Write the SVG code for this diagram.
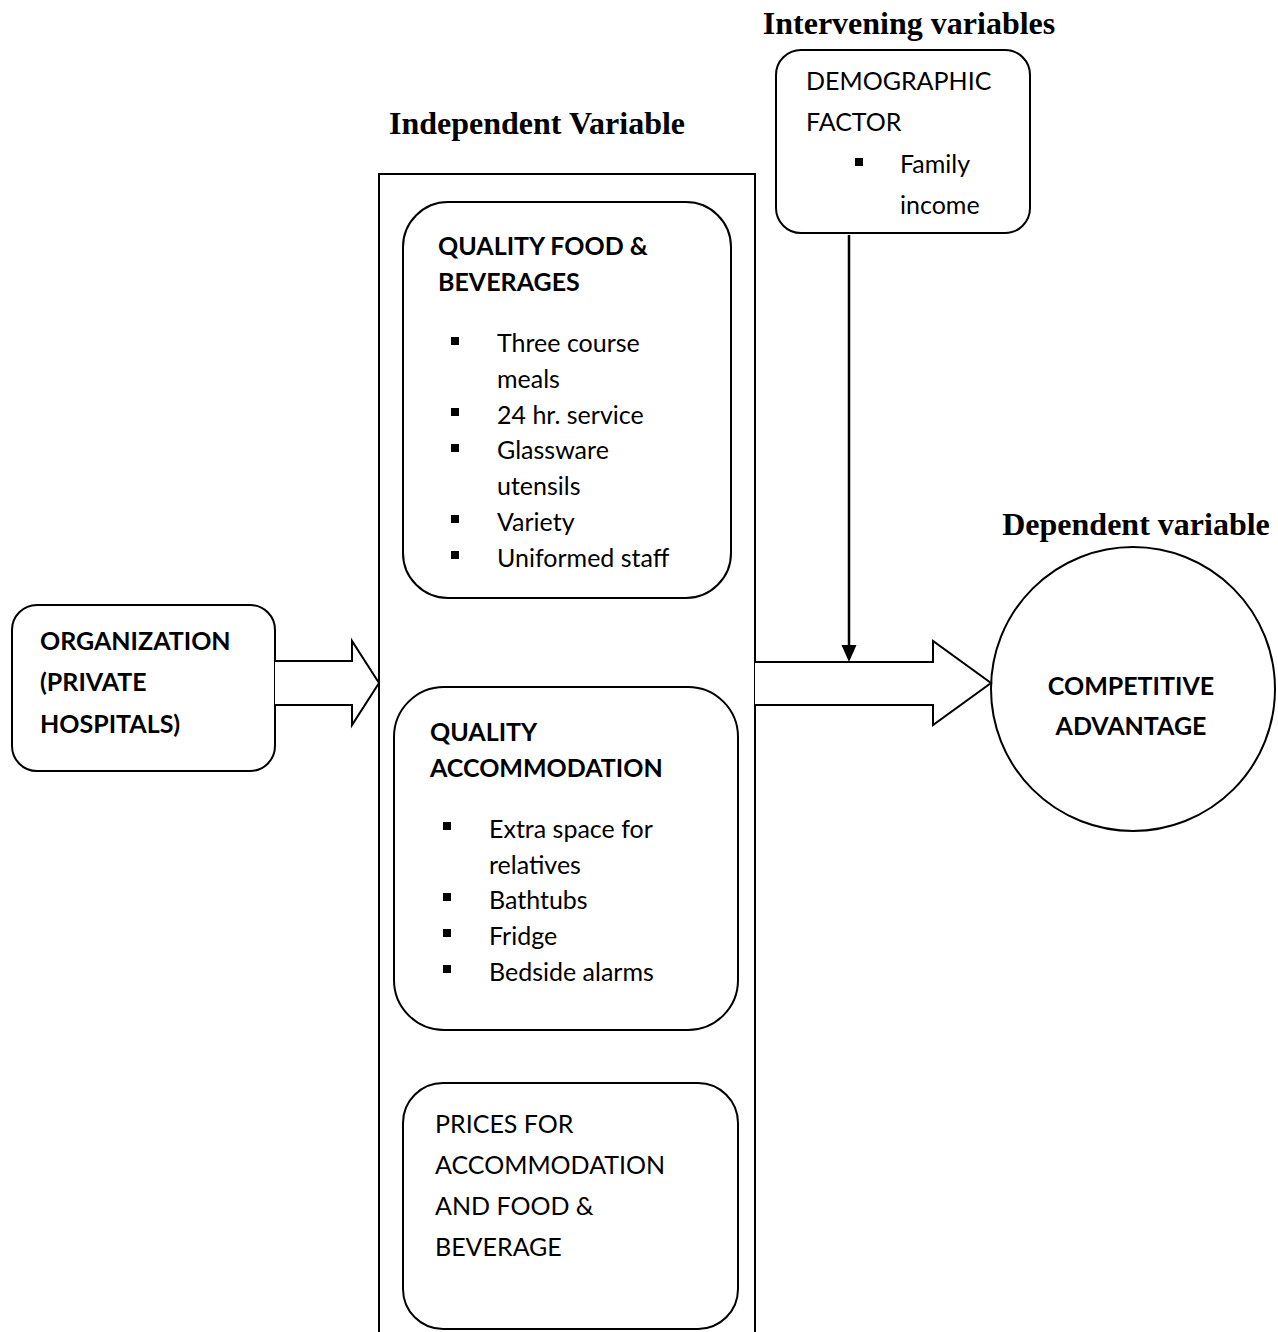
<svg xmlns="http://www.w3.org/2000/svg" width="1278" height="1332" viewBox="0 0 1278 1332">
<style>
.box{fill:#fff;stroke:#000;stroke-width:2}
.t{font-family:Lato,"Open Sans",sans-serif;font-size:25px;fill:#000}
.b{font-weight:bold}
.h{font-family:"Liberation Serif",serif;font-size:32px;font-weight:bold;fill:#000}
.bul{fill:#000}
.arr{fill:#fff;stroke:#000;stroke-width:2;stroke-linejoin:miter}
</style>
<rect width="1278" height="1332" fill="#fff"/>
<text class="h" x="909" y="34" text-anchor="middle">Intervening variables</text>
<text class="h" x="537" y="134" text-anchor="middle">Independent Variable</text>
<text class="h" x="1136" y="535" text-anchor="middle">Dependent variable</text>

<g id="independent">
<path d="M379,1332 L379,174 L755,174 L755,1332" fill="none" stroke="#000" stroke-width="2"/>
</g>

<g id="food">
<rect class="box" x="403" y="202" width="328" height="396" rx="45"/>
<text class="t b" x="438" y="255">QUALITY FOOD &amp;</text>
<text class="t b" x="438" y="291">BEVERAGES</text>
<rect class="bul" x="451" y="337" width="8" height="8"/>
<text class="t" x="497" y="352">Three course</text>
<text class="t" x="497" y="388">meals</text>
<rect class="bul" x="451" y="408" width="8" height="8"/>
<text class="t" x="497" y="424">24 hr. service</text>
<rect class="bul" x="451" y="444" width="8" height="8"/>
<text class="t" x="497" y="459">Glassware</text>
<text class="t" x="497" y="495">utensils</text>
<rect class="bul" x="451" y="515" width="8" height="8"/>
<text class="t" x="497" y="531">Variety</text>
<rect class="bul" x="451" y="551" width="8" height="8"/>
<text class="t" x="497" y="567">Uniformed staff</text>
</g>

<g id="accommodation">
<rect class="box" x="394" y="687" width="344" height="343" rx="50"/>
<text class="t b" x="430" y="741">QUALITY</text>
<text class="t b" x="430" y="777">ACCOMMODATION</text>
<rect class="bul" x="443" y="822" width="8" height="8"/>
<text class="t" x="489" y="838">Extra space for</text>
<text class="t" x="489" y="874">relatives</text>
<rect class="bul" x="443" y="893" width="8" height="8"/>
<text class="t" x="489" y="909">Bathtubs</text>
<rect class="bul" x="443" y="929" width="8" height="8"/>
<text class="t" x="489" y="945">Fridge</text>
<rect class="bul" x="443" y="965" width="8" height="8"/>
<text class="t" x="489" y="981">Bedside alarms</text>
</g>

<g id="prices">
<rect class="box" x="403" y="1083" width="335" height="246" rx="40"/>
<text class="t" x="435" y="1133">PRICES FOR</text>
<text class="t" x="435" y="1174">ACCOMMODATION</text>
<text class="t" x="435" y="1215">AND FOOD &amp;</text>
<text class="t" x="435" y="1256">BEVERAGE</text>
</g>

<g id="demographic">
<rect class="box" x="776" y="50" width="254" height="183" rx="25"/>
<text class="t" x="806" y="90">DEMOGRAPHIC</text>
<text class="t" x="806" y="131">FACTOR</text>
<rect class="bul" x="855" y="158" width="8" height="8"/>
<text class="t" x="900" y="173">Family</text>
<text class="t" x="900" y="214">income</text>
</g>

<g id="organization">
<rect class="box" x="12" y="605" width="263" height="166" rx="25"/>
<text class="t b" x="40" y="650">ORGANIZATION</text>
<text class="t b" x="40" y="691">(PRIVATE</text>
<text class="t b" x="40" y="733">HOSPITALS)</text>
</g>

<g id="competitive">
<circle class="box" cx="1133" cy="689" r="142"/>
<text class="t b" x="1131" y="695" text-anchor="middle">COMPETITIVE</text>
<text class="t b" x="1131" y="735" text-anchor="middle">ADVANTAGE</text>
</g>

<g id="connectors">
<path class="arr" d="M275,661 L352,661 L352,641 L379,683 L352,725 L352,705 L275,705"/>
<path class="arr" d="M755,662 L933,662 L933,641 L991,683 L933,725 L933,705 L755,705"/>
<line x1="849" y1="235" x2="849" y2="646" stroke="#000" stroke-width="2.5"/>
<path d="M841.5,645 L856.5,645 L849,662 Z" fill="#000"/>
</g>
</svg>
